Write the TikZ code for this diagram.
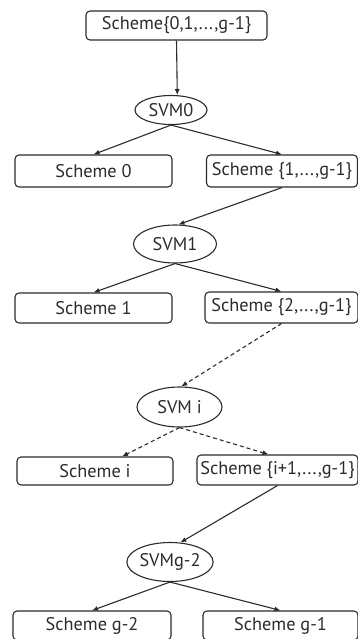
\documentclass[tikz,border=0pt]{standalone}
\usepackage{fontspec}
\setmainfont{PT Sans}
\usetikzlibrary{arrows.meta,shapes.geometric,calc}
\definecolor{ink}{HTML}{2B2B2B}
\tikzset{
  box/.style={draw=ink, line width=1.1pt, rounded corners=4pt, inner sep=0pt, text=ink,
    font=\fontsize{18.3}{21}\selectfont},
  oval/.style={draw=ink, line width=1.1pt, ellipse, inner sep=0pt, text=ink,
    font=\fontsize{18.3}{21}\selectfont},
  arr/.style={draw=ink, line width=1.1pt, -{Latex[length=6pt,width=5pt]}},
  darr/.style={arr, dashed, dash pattern=on 4pt off 3pt},
}
\begin{document}
\begin{tikzpicture}[x=1pt,y=-1pt]
\useasboundingbox (0,0) rectangle (358,639);
\node[box, minimum width=181pt, minimum height=29pt] (top) at (176.5,25.5) {Scheme\{0,1,...,g-1\}};
\node[oval, minimum width=72pt, minimum height=29pt] (svm0) at (171,110) {SVM0};
\node[box, minimum width=157pt, minimum height=32pt] (s0) at (93.5,171) {Scheme 0};
\node[box, minimum width=151pt, minimum height=32pt] (s1r) at (282,171) {Scheme \{1,...,g-1\}};
\node[oval, minimum width=83pt, minimum height=38pt] (svm1) at (175,244) {SVM1};
\node[box, minimum width=157pt, minimum height=30pt] (s1) at (93.5,308) {Scheme 1};
\node[box, minimum width=153pt, minimum height=31pt] (s2r) at (281.5,307.5) {Scheme \{2,...,g-1\}};
\node[oval, minimum width=85pt, minimum height=40pt] (svmi) at (179.5,407) {SVM i};
\node[box, minimum width=156pt, minimum height=28pt] (si) at (95,471) {Scheme i};
\node[box, minimum width=161pt, minimum height=30pt] (s3r) at (277.5,470) {Scheme \{i+1,...,g-1\}};
\node[oval, minimum width=75pt, minimum height=39pt] (svmg) at (170,562) {SVMg-2};
\node[box, minimum width=158pt, minimum height=29pt] (sg2) at (92,625.5) {Scheme g-2};
\node[box, minimum width=155pt, minimum height=29pt] (sg1) at (280.5,625.5) {Scheme g-1};

\draw[arr] (top.south) -- (svm0.67);
\draw[arr] (svm0.south) -- (s0.north);
\draw[arr] (svm0.south) -- (s1r.north);
\draw[arr] (s1r.south) -- (svm1.80);
\draw[arr] (svm1.south) -- (s1.north);
\draw[arr] (svm1.south) -- (s2r.north);
\draw[darr] (s2r.south) -- (svmi.85);
\draw[darr] (svmi.south) -- ($(si.north)+(27,0)$);
\draw[darr] (svmi.south) -- ($(s3r.north)+(-9,0)$);
\draw[arr] (s3r.south) -- (svmg.62);
\draw[arr] (svmg.south) -- (sg2.north);
\draw[arr] (svmg.south) -- (sg1.north);
\end{tikzpicture}
\end{document}
